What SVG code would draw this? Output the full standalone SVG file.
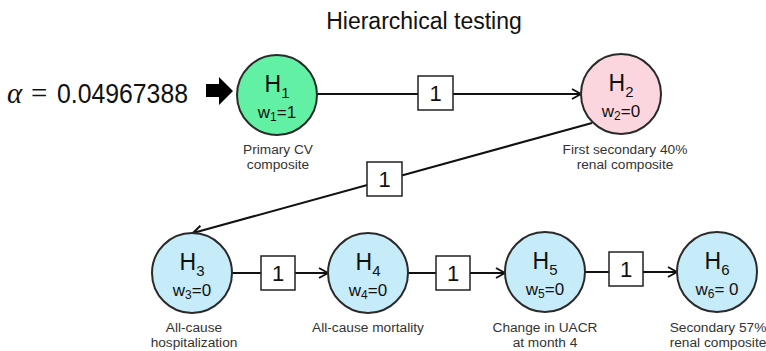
<svg xmlns="http://www.w3.org/2000/svg" width="766" height="351" viewBox="0 0 766 351">
<defs>
<style>
.node{stroke:#2a2a2a;stroke-width:2}
.g{fill:#62F0A4}.p{fill:#FCD6DE}.b{fill:#C6ECF9}
.h{font-family:"Liberation Sans",Arial,sans-serif;font-size:23px;fill:#111;text-anchor:middle}
.w{font-family:"Liberation Sans",Arial,sans-serif;font-size:17px;fill:#111;text-anchor:middle}
.lab{font-family:"Liberation Sans",Arial,sans-serif;font-size:13.7px;fill:#333;text-anchor:middle}
.edge{stroke:#111;stroke-width:2;fill:none}
.box{fill:#fff;stroke:#222;stroke-width:1.5}
.one{font-family:"Liberation Sans",Arial,sans-serif;font-size:22px;fill:#111;text-anchor:middle}
</style>
<marker id="arr" viewBox="0 0 12 12" refX="11" refY="6" markerWidth="12" markerHeight="12" markerUnits="userSpaceOnUse" orient="auto">
<path d="M2,1 L11,6 L2,11" fill="none" stroke="#111" stroke-width="2"/>
</marker>
</defs>
<rect width="766" height="351" fill="#fff"/>
<text x="424" y="29" font-family="'Liberation Sans',Arial,sans-serif" font-size="23" fill="#111" text-anchor="middle">Hierarchical testing</text>
<g id="alpha">
<text x="7" y="103" font-family="'Liberation Serif','Times New Roman',serif" font-size="29" font-style="italic" fill="#111">α</text>
<text x="31" y="103" font-family="'Liberation Serif','Times New Roman',serif" font-size="29" fill="#111">=</text>
<text x="57" y="103" font-family="'Liberation Sans',Arial,sans-serif" font-size="28" fill="#111" textLength="131" lengthAdjust="spacingAndGlyphs">0.04967388</text>
<path d="M206,84 L219,84 L219,77 L233,91 L219,105 L219,97 L206,97 Z" fill="#000"/>
</g>
<g id="connectors">
<line class="edge" x1="317" y1="94" x2="581" y2="94" marker-end="url(#arr)"/>
<rect class="box" x="418" y="76" width="35" height="34"/>
<text class="one" x="435.5" y="101">1</text>
<line class="edge" x1="592" y1="123" x2="193" y2="233" marker-end="url(#arr)"/>
<rect class="box" x="367" y="162" width="35" height="34"/>
<text class="one" x="384.5" y="187">1</text>
<line class="edge" x1="232" y1="273" x2="328" y2="273" marker-end="url(#arr)"/>
<rect class="box" x="261" y="256" width="34" height="34"/>
<text class="one" x="278" y="281">1</text>
<line class="edge" x1="408" y1="273" x2="505" y2="273" marker-end="url(#arr)"/>
<rect class="box" x="436" y="256" width="34" height="34"/>
<text class="one" x="453" y="281">1</text>
<line class="edge" x1="585" y1="272" x2="677" y2="272" marker-end="url(#arr)"/>
<rect class="box" x="609" y="252" width="34" height="34"/>
<text class="one" x="626" y="277">1</text>
</g>
<g id="H1">
<circle class="node g" cx="277" cy="95" r="40"/>
<text class="h" x="277" y="92">H<tspan font-size="15" dy="6">1</tspan></text>
<text class="w" x="277" y="118">w<tspan font-size="12" dy="3">1</tspan><tspan dy="-3">=1</tspan></text>
<text class="lab" x="278" y="154">Primary CV</text>
<text class="lab" x="278" y="169">composite</text>
</g>
<g id="H2">
<circle class="node p" cx="621" cy="94" r="40"/>
<text class="h" x="621" y="91">H<tspan font-size="15" dy="6">2</tspan></text>
<text class="w" x="621" y="117">w<tspan font-size="12" dy="3">2</tspan><tspan dy="-3">=0</tspan></text>
<text class="lab" x="625" y="154">First secondary 40%</text>
<text class="lab" x="625" y="169">renal composite</text>
</g>
<g id="H3">
<circle class="node b" cx="192" cy="273" r="40"/>
<text class="h" x="192" y="270">H<tspan font-size="15" dy="6">3</tspan></text>
<text class="w" x="192" y="296">w<tspan font-size="12" dy="3">3</tspan><tspan dy="-3">=0</tspan></text>
<text class="lab" x="194" y="332">All-cause</text>
<text class="lab" x="194" y="347">hospitalization</text>
</g>
<g id="H4">
<circle class="node b" cx="368" cy="273" r="40"/>
<text class="h" x="368" y="270">H<tspan font-size="15" dy="6">4</tspan></text>
<text class="w" x="368" y="296">w<tspan font-size="12" dy="3">4</tspan><tspan dy="-3">=0</tspan></text>
<text class="lab" x="368" y="332">All-cause mortality</text>
</g>
<g id="H5">
<circle class="node b" cx="545" cy="272" r="40"/>
<text class="h" x="545" y="269">H<tspan font-size="15" dy="6">5</tspan></text>
<text class="w" x="545" y="295">w<tspan font-size="12" dy="3">5</tspan><tspan dy="-3">=0</tspan></text>
<text class="lab" x="545" y="332">Change in UACR</text>
<text class="lab" x="545" y="347">at month 4</text>
</g>
<g id="H6">
<circle class="node b" cx="717" cy="272" r="40"/>
<text class="h" x="717" y="269">H<tspan font-size="15" dy="6">6</tspan></text>
<text class="w" x="717" y="295">w<tspan font-size="12" dy="3">6</tspan><tspan dy="-3">= 0</tspan></text>
<text class="lab" x="718" y="332">Secondary 57%</text>
<text class="lab" x="718" y="347">renal composite</text>
</g>
</svg>
